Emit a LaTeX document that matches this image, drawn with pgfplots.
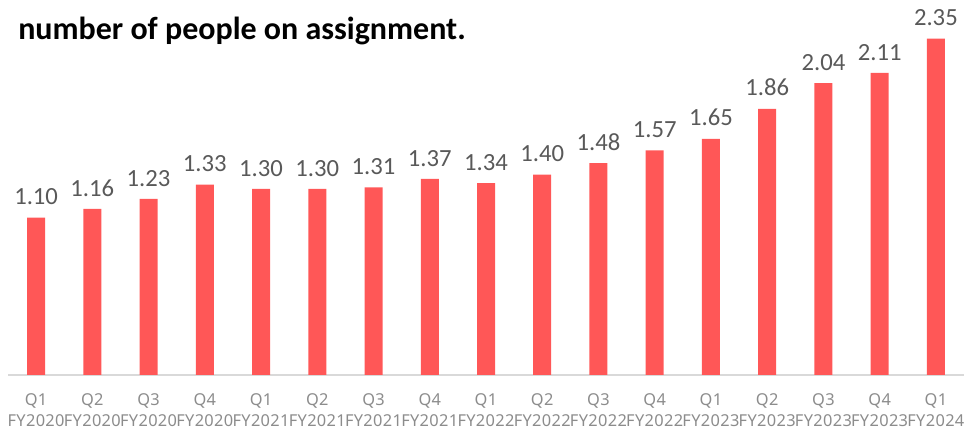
\documentclass[border=0pt]{standalone}
\usepackage{fontspec}
\setmainfont{Carlito}
\newfontfamily\tickfont[LetterSpace=2]{Noto Sans}
\newcommand\tickfmt{\tickfont\fontsize{12.3}{15.5}\selectfont\lineskiplimit=-100pt\relax}
\usepackage{pgfplots}
\pgfplotsset{compat=1.18}
\definecolor{barred}{HTML}{FF5757}
\definecolor{lbl}{HTML}{595959}
\definecolor{tick}{HTML}{8C8C8C}
\definecolor{axisgray}{HTML}{D9D9D9}

\begin{document}
\begin{tikzpicture}
\begin{axis}[
    scale only axis,
    width=717pt, height=281.25pt,
    xmin=-0.5, xmax=16.5,
    ymin=0, ymax=2.62,
    axis y line=none,
    axis x line*=bottom,
    axis line style={axisgray, line width=1pt},
    x axis line style={-},
    xtick=data,
    xticklabels={{Q1\\FY2020},{Q2\\FY2020},{Q3\\FY2020},{Q4\\FY2020},
                 {Q1\\FY2021},{Q2\\FY2021},{Q3\\FY2021},{Q4\\FY2021},
                 {Q1\\FY2022},{Q2\\FY2022},{Q3\\FY2022},{Q4\\FY2022},
                 {Q1\\FY2023},{Q2\\FY2023},{Q3\\FY2023},{Q4\\FY2023},
                 {Q1\\FY2024}},
    xticklabel style={align=center, font=\tickfmt,
                      text=tick, inner sep=0pt, yshift=-14pt},
    major tick length=0pt,
    ybar, bar width=13.5pt,
    nodes near coords,
    nodes near coords style={font=\fontsize{18.5}{20}\selectfont, text=lbl,
        yshift=6pt,
        /pgf/number format/.cd, fixed, fixed zerofill, precision=2,
        assume math mode=true},
    clip=false,
]
\addplot[fill=barred, draw=none] coordinates {
    (0,1.10) (1,1.16) (2,1.23) (3,1.33) (4,1.30) (5,1.30) (6,1.31)
    (7,1.37) (8,1.34) (9,1.40) (10,1.48) (11,1.57) (12,1.65)
    (13,1.86) (14,2.04) (15,2.11) (16,2.35)
};
\end{axis}
\node[anchor=base west, font=\bfseries\fontsize{24}{26}\selectfont, inner sep=0pt]
    at ([xshift=7.5pt, yshift=-29.5pt]current axis.north west)
    {number of people on assignment.};
\pgfresetboundingbox
\path[use as bounding box] ([xshift=-6pt, yshift=-44.25pt]current axis.south west)
    rectangle (current axis.north east);
\end{tikzpicture}
\end{document}
